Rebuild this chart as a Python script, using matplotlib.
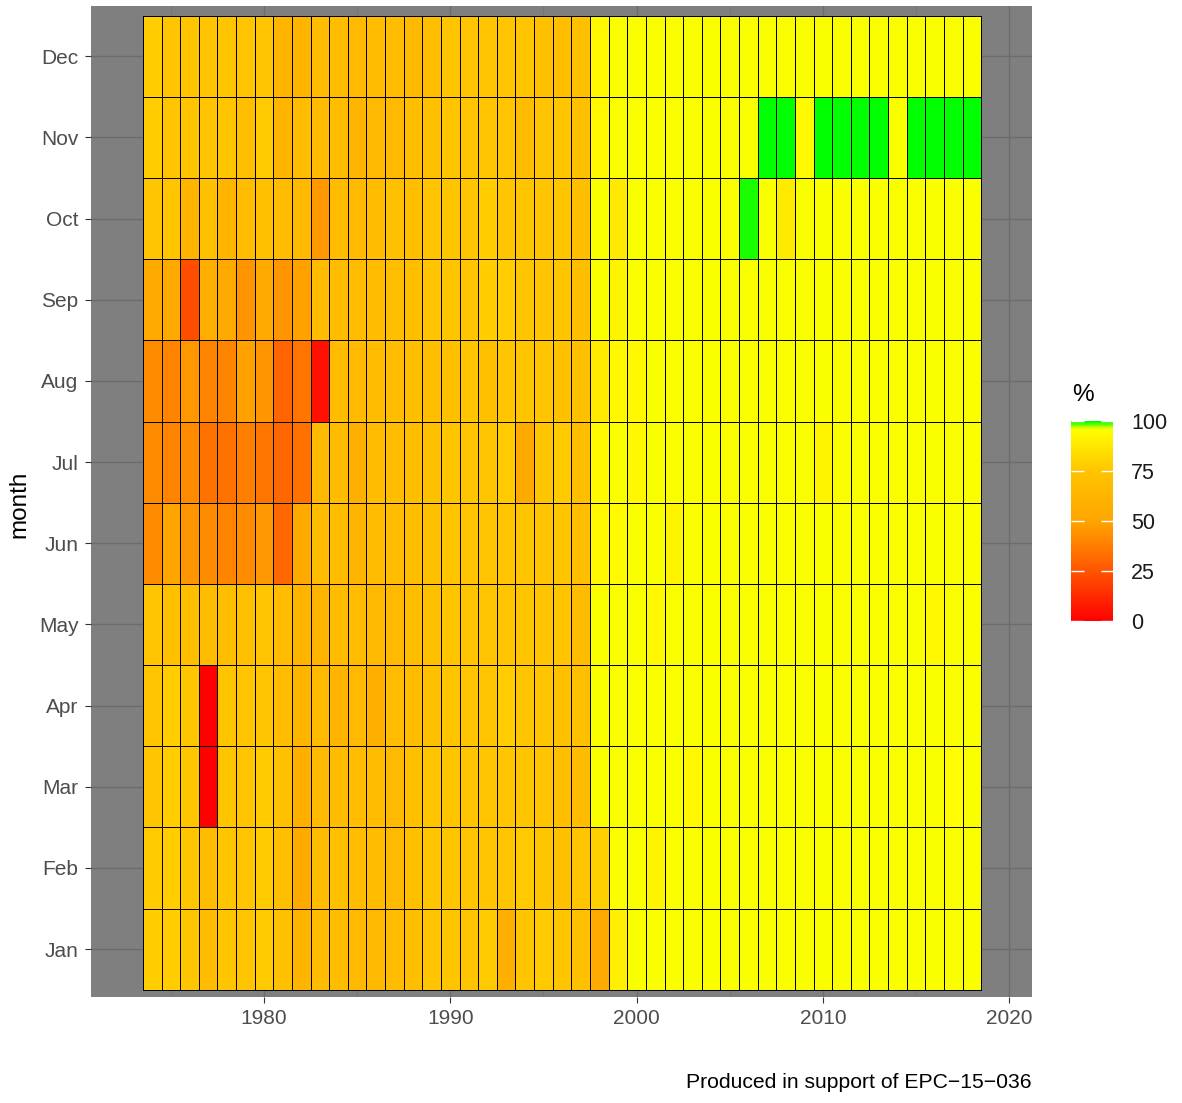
import matplotlib.pyplot as plt
import numpy as np
from matplotlib.colors import LinearSegmentedColormap, Normalize

plt.rcParams['font.family'] = ['Liberation Sans', 'DejaVu Sans']

# данные: доля (%) по месяцам, годы 1974-2018
years = list(range(1974, 2019))
months = ['Jan', 'Feb', 'Mar', 'Apr', 'May', 'Jun',
          'Jul', 'Aug', 'Sep', 'Oct', 'Nov', 'Dec']

jan = [78, 78, 75, 68, 75, 75, 77, 72, 62, 68, 68, 66, 66, 68, 71, 75, 75, 75, 77, 58, 75, 77, 75, 72,
       54, 90, 96, 96, 96, 96, 96, 96, 96, 96, 96, 96, 96, 96, 96, 96, 96, 96, 96, 96, 96]
feb = [77, 78, 75, 68, 75, 75, 77, 71, 54, 68, 72, 68, 68, 66, 72, 75, 75, 75, 75, 75, 77, 75, 72, 75,
       79, 96, 96, 92, 96, 96, 96, 96, 96, 96, 96, 96, 96, 96, 96, 96, 96, 96, 96, 96, 96]
mar = [75, 78, 75, 0, 75, 75, 77, 72, 58, 66, 68, 68, 68, 66, 72, 75, 75, 75, 75, 75, 75, 75, 71, 68,
       96, 96, 96, 96, 96, 93, 96, 96, 96, 96, 96, 96, 96, 96, 96, 96, 96, 96, 96, 95, 96]
apr = [75, 78, 75, 0, 75, 75, 75, 68, 62, 66, 62, 66, 58, 68, 68, 72, 75, 75, 75, 78, 75, 75, 72, 72,
       96, 96, 96, 96, 96, 96, 96, 96, 96, 96, 96, 96, 96, 96, 96, 96, 96, 96, 96, 96, 96]
may = [75, 72, 71, 68, 71, 72, 75, 68, 62, 62, 68, 68, 66, 66, 71, 72, 75, 75, 75, 75, 75, 75, 75, 68,
       96, 96, 96, 93, 96, 96, 96, 96, 96, 96, 96, 96, 96, 96, 96, 96, 96, 96, 93, 96, 96]
jun = [42, 50, 45, 42, 40, 42, 46, 31, 54, 68, 68, 62, 68, 68, 71, 72, 75, 75, 75, 75, 75, 75, 75, 71,
       93, 94, 96, 96, 92, 96, 96, 96, 96, 96, 96, 96, 96, 96, 96, 96, 96, 96, 96, 96, 96]
jul = [42, 40, 42, 34, 34, 38, 35, 31, 34, 66, 68, 58, 68, 68, 71, 72, 75, 75, 75, 77, 54, 75, 77, 71,
       94, 96, 93, 96, 96, 96, 96, 96, 96, 96, 96, 96, 92, 96, 96, 96, 96, 96, 96, 96, 96]
aug = [42, 40, 46, 40, 40, 49, 45, 30, 35, 5, 68, 66, 68, 68, 71, 71, 72, 75, 72, 75, 75, 75, 72, 72,
       89, 93, 93, 96, 96, 96, 96, 96, 96, 96, 96, 96, 96, 96, 96, 96, 96, 96, 96, 96, 96]
sep = [54, 54, 23, 58, 54, 45, 54, 45, 49, 68, 68, 68, 68, 71, 71, 75, 75, 75, 78, 78, 75, 75, 75, 71,
       96, 92, 96, 96, 96, 96, 96, 96, 96, 96, 96, 96, 96, 96, 96, 96, 96, 96, 96, 96, 96]
oct = [75, 75, 62, 72, 62, 68, 72, 68, 66, 46, 68, 66, 68, 72, 71, 75, 75, 75, 78, 75, 75, 75, 75, 71,
       96, 88, 96, 96, 96, 96, 96, 96, 99.3, 96, 89, 96, 96, 96, 96, 96, 96, 96, 96, 96, 96]
nov = [78, 75, 75, 75, 75, 71, 77, 62, 68, 68, 68, 63, 66, 66, 71, 72, 75, 75, 75, 75, 68, 75, 75, 72,
       93, 96, 96, 96, 96, 96, 96, 96, 96, 100, 100, 94, 100, 100, 100, 100, 96, 100, 100, 100, 100]
dec = [78, 75, 75, 75, 75, 75, 75, 62, 62, 68, 68, 66, 68, 68, 66, 71, 75, 75, 75, 75, 75, 72, 71, 72,
       93, 96, 96, 96, 96, 96, 96, 96, 96, 96, 96, 96, 96, 96, 96, 96, 96, 96, 96, 96, 96]

cbar_ticks = [0, 25, 50, 75, 100]

grid = np.array([jan, feb, mar, apr, may, jun, jul, aug, sep, oct, nov, dec])

#шкала красный -> оранжевый -> желтый -> зеленый
cmap = LinearSegmentedColormap.from_list('pct', [
    (0.0, '#ff0000'), (0.25, '#ff5500'), (0.5, '#ffa500'),
    (0.75, '#ffc400'), (0.96, '#ffff00'), (1.0, '#00ff00')])

W, H = 1182, 1103
fig = plt.figure(figsize=(W / 100, H / 100), dpi=100)
ax = fig.add_axes([91 / W, 1 - 997 / H, (1032 - 91) / W, (997 - 6) / H])
ax.set_facecolor('#7f7f7f')
ax.set_axisbelow(True)

x_edges = np.arange(years[0] - 0.5, years[-1] + 1)
y_edges = np.arange(0.5, len(months) + 1)
mesh = ax.pcolormesh(x_edges, y_edges, grid, cmap=cmap, norm=Normalize(0, 100),
                     edgecolors='black', linewidth=0.55)

ax.set_xlim(1970.71, 2021.23)
ax.set_ylim(0.41, 12.62)
ax.set_xticks([1980, 1990, 2000, 2010, 2020])
ax.set_xticks([1975, 1985, 1995, 2005, 2015], minor=True)
ax.set_yticks(range(1, len(months) + 1), months)
ax.grid(which='major', color='#6c6c6c', linewidth=1.0)
ax.grid(which='minor', axis='x', color='#747474', linewidth=0.6)
ax.tick_params(which='major', length=4, width=0.8, color='#333333',
               labelcolor='#4d4d4d', labelsize=15, pad=5)
ax.tick_params(which='minor', length=0)
for s in ax.spines.values():
    s.set_visible(False)

fig.text(19 / W, 1 - 504 / H, 'month', rotation=90, ha='center', va='center',
         fontsize=17.5, color='black')
fig.text(1032 / W, 1 - 1082 / H, 'Produced in support of EPC\u221215\u2212036',
         ha='right', va='center', fontsize=15.2, color='black')

#легенда-шкала
cax = fig.add_axes([1071 / W, 1 - 621 / H, 42 / W, (621 - 421) / H])
cbar = fig.colorbar(mesh, cax=cax, ticks=cbar_ticks)
cbar.outline.set_visible(False)
cax.minorticks_off()
cax.tick_params(direction='in', length=9, width=1, color='white', left=True, right=True,
                labelleft=False, labelright=True, labelsize=15.5, labelcolor='#1a1a1a', pad=13)
fig.text(1072 / W, 1 - 395 / H, '%', ha='left', va='center', fontsize=17.5, color='black')

fig.savefig('out.png', dpi=100)
